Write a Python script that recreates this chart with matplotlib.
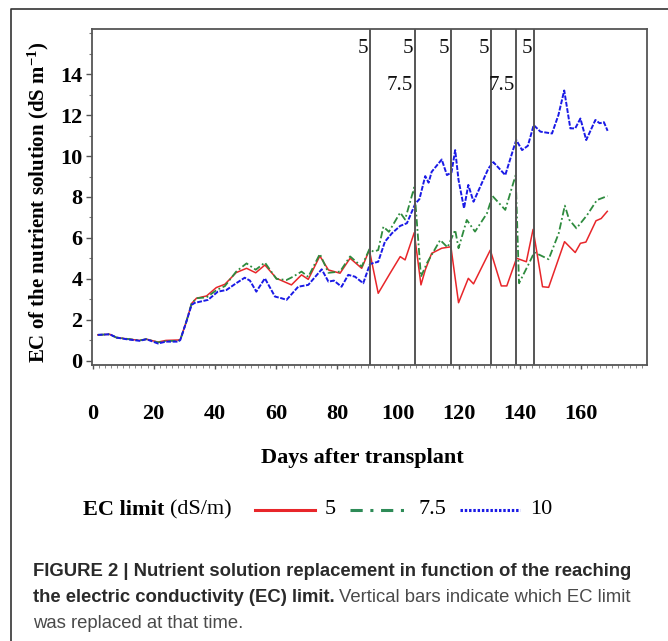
import matplotlib
matplotlib.use("Agg")
import matplotlib.pyplot as plt
from matplotlib.lines import Line2D
from matplotlib.ticker import MultipleLocator

plt.rcParams["mathtext.fontset"] = "custom"
plt.rcParams["mathtext.rm"] = "Liberation Serif:bold"
plt.rcParams["mathtext.bf"] = "Liberation Serif:bold"
plt.rcParams["mathtext.default"] = "rm"

# ---------------- data ----------------
days_red = [1.7, 5.6, 7.8, 11, 15.4, 17.6, 21.4, 24, 28, 28.7, 30.7, 32.4, 34, 37.3, 40.5, 43.3,
            47, 50.4, 53.4, 56.4, 60.2, 65.1, 68.4, 70.6, 74.4, 77.2, 81, 84.3, 88.1, 90.6,
            93.5, 97.4, 100.7, 102.3, 105.3, 107.5, 108.9, 111, 114.3, 117.3, 119.8, 123,
            124.7, 130.2, 133.8, 135.6, 138.8, 142, 144.2, 147.3, 149.3, 154.5, 158, 159.7,
            161.5, 164.8, 166.5, 168.5]
ec_red = [1.27, 1.30, 1.14, 1.08, 1.00, 1.06, 0.92, 1.00, 1.02, 1.04, 1.92, 2.80, 3.06, 3.17,
          3.58, 3.74, 4.31, 4.52, 4.30, 4.68, 4.03, 3.71, 4.20, 3.98, 5.12, 4.44, 4.28, 5.01,
          4.52, 5.41, 3.30, 4.28, 5.09, 4.93, 6.26, 3.71, 4.44, 5.25, 5.50, 5.57, 2.84, 4.03,
          3.76, 5.41, 3.66, 3.66, 5.01, 4.84, 6.42, 3.62, 3.59, 5.82, 5.29, 5.74, 5.80, 6.84,
          6.95, 7.30]

days_green = [1.7, 5.6, 7.8, 11, 15.4, 17.6, 21.4, 24, 28, 28.7, 30.7, 32.4, 34, 37.3, 40.5,
              43.3, 47, 50.4, 53.4, 56.4, 60.2, 63.5, 65.5, 68.4, 70.6, 74.4, 77.2, 81, 84.3,
              88.1, 90.6, 92, 93.5, 95.2, 97, 100.7, 102.3, 105.3, 107.5, 109.4, 113.8, 116.2,
              118.7, 119.8, 122.5, 125.2, 129.1, 130.9, 135.1, 138.5, 139.6, 143.0, 144.6,
              149.3, 152.6, 154.6, 156, 158.4, 161.9, 165.1, 168.6]
ec_green = [1.27, 1.30, 1.14, 1.08, 1.00, 1.06, 0.90, 0.97, 0.98, 1.02, 1.92, 2.80, 3.06, 3.10,
            3.45, 3.65, 4.36, 4.76, 4.45, 4.80, 4.00, 3.95, 4.10, 4.36, 4.10, 5.22, 4.30, 4.36,
            5.10, 4.60, 5.45, 5.33, 5.41, 6.55, 6.30, 7.24, 6.90, 8.47, 4.11, 4.76, 5.90, 5.54,
            6.39, 5.50, 6.88, 6.31, 7.20, 8.05, 7.37, 9.07, 3.79, 4.80, 5.30, 4.96, 6.23, 7.58,
            6.90, 6.47, 7.12, 7.85, 8.05]

days_blue = [1.7, 5.6, 7.8, 11, 15.4, 17.6, 21.4, 24, 28, 28.7, 30.7, 32.4, 33.4, 37.8, 41,
             43.8, 47, 49.8, 51.5, 53.6, 56.4, 59.7, 61.8, 63.5, 67.3, 70.6, 75, 77.2, 79,
             81.5, 83.7, 85.9, 88.6, 90.8, 93.5, 95.7, 98, 100.7, 102.9, 105.6, 107, 108.9,
             110, 111, 114.3, 116, 117.5, 118.7, 119.8, 121.6, 123, 124.7, 129.6, 131.2,
             135.1, 137.8, 138.7, 140.6, 142.5, 144.4, 146.6, 150.4, 152.5, 154.4, 156.4,
             158, 159.7, 161.6, 164.6, 166, 167.4, 168.6]
ec_blue = [1.27, 1.30, 1.14, 1.06, 0.98, 1.06, 0.85, 0.94, 0.94, 1.02, 1.92, 2.73, 2.83, 2.98,
           3.38, 3.46, 3.79, 4.06, 3.92, 3.38, 4.03, 3.14, 3.06, 2.98, 3.62, 3.71, 4.47, 3.87,
           3.92, 3.62, 4.20, 4.11, 3.79, 4.73, 4.84, 5.82, 6.23, 6.59, 6.72, 7.66, 7.90, 9.02,
           8.70, 9.23, 9.83, 9.07, 9.20, 10.29, 8.83, 7.45, 8.59, 7.77, 9.40, 9.70, 9.07,
           10.37, 10.78, 10.29, 10.50, 11.51, 11.19, 11.10, 12.00, 13.20, 11.35, 11.35, 11.83,
           10.78, 11.76, 11.60, 11.65, 11.23]

replacement_days = [90.8, 105.6, 117.4, 130.5, 138.7, 144.6]
replaced_5 = [True, True, True, True, False, True]
replaced_75 = [False, True, False, False, True, False]

x_ticks = [0, 20, 40, 60, 80, 100, 120, 140, 160]
y_ticks = [0, 2, 4, 6, 8, 10, 12, 14]

legend_labels = ["5", "7.5", "10"]

# ---------------- style ----------------
serif = ["Liberation Serif", "DejaVu Serif"]
sans = ["Liberation Sans", "DejaVu Sans"]
c_red = "#e8262a"
c_green = "#2e8b3e"
c_blue = "#1a1ae6"

fig = plt.figure(figsize=(6.68, 6.41), dpi=100)
W, H = 668.0, 641.0
ax = fig.add_axes([92 / W, 1 - 365 / H, (647 - 92) / W, (365 - 29) / H])

ax.plot(days_red, ec_red, color=c_red, lw=1.1, ls="-")
ax.plot(days_green, ec_green, color=c_green, lw=1.3, ls=(0, (4, 1.5, 1, 1.5)))
ax.plot(days_blue, ec_blue, color=c_blue, lw=1.4, ls=(0, (2.5, 0.8)))

for d, r5, r75 in zip(replacement_days, replaced_5, replaced_75):
    ax.axvline(d, color="#555555", lw=1.4, zorder=3)
    if r5:
        ax.text(d - 0.6, 15.25, "5", ha="right", va="center", fontsize=15,
                family=serif, color="#111111")
    if r75:
        ax.text(d - 0.6, 13.45, "7.5", ha="right", va="center", fontsize=15,
                family=serif, color="#111111")

ax.set_xlim(-0.2, 181.5)
ax.set_ylim(-0.2, 16.2)
ax.set_xticks(x_ticks)
ax.set_xticklabels([str(v) for v in x_ticks])
ax.set_yticks(y_ticks)
ax.set_yticklabels([str(v) for v in y_ticks])
ax.xaxis.set_minor_locator(MultipleLocator(2))
ax.yaxis.set_minor_locator(MultipleLocator(1))
ax.tick_params(axis="x", which="major", length=3, width=1, pad=25, color="#555555")
ax.tick_params(axis="x", which="minor", length=2, width=0.6, color="#777777")
ax.tick_params(axis="y", which="major", length=4, width=1, pad=3, color="#555555")
ax.tick_params(axis="y", which="minor", length=2.5, width=0.8, color="#777777")
for lab in ax.get_xticklabels() + ax.get_yticklabels():
    lab.set_family(serif)
    lab.set_fontweight("bold")
    lab.set_fontsize(16)
for s in ax.spines.values():
    s.set_color("#555555")
    s.set_linewidth(1.3)

ax.set_xlabel("Days after transplant", family=serif, fontweight="bold", fontsize=16)
ax.xaxis.set_label_coords(0.487, (365 - 458) / 336.0)
ax.xaxis.label.set_va("center")
ax.set_ylabel("EC of the nutrient solution (dS m$^{-1}$)", family=serif,
              fontweight="bold", fontsize=15)
ax.yaxis.set_label_coords((38 - 92) / 555.0, 0.485)
ax.yaxis.label.set_va("center")

# outer frame (left + top)
fig.add_artist(Line2D([11 / W, 11 / W, 1.0], [0.0, 1 - 9 / H, 1 - 9 / H],
                      transform=fig.transFigure, color="#333333", lw=1.2))

# legend (manual layout)
ly = 1 - 510 / H
fig.text(83 / W, ly, "EC limit", family=serif, fontweight="bold", fontsize=16,
         va="center", ha="left")
fig.text(170 / W, ly, "(dS/m)", family=serif, fontsize=16, va="center", ha="left")
leg_styles = [(c_red, "-", 255, 315, 325),
              ("#2e8b57", (0, (4, 2.5, 1, 2.5)), 350, 410, 418),
              (c_blue, (0, (0.8, 0.6)), 460, 520, 530)]
for (col, ls, x0, x1, xt), lab in zip(leg_styles, legend_labels):
    fig.add_artist(Line2D([x0 / W, x1 / W], [ly, ly], transform=fig.transFigure,
                          color=col, lw=2.2, ls=ls))
    fig.text(xt / W, ly, lab, family=serif, fontsize=16, va="center", ha="left")

# caption
fig.canvas.draw()
r = fig.canvas.get_renderer()
cap_x = 33 / W
cap_fs = 13.3
fig.text(cap_x, 1 - 572 / H, "FIGURE 2 | Nutrient solution replacement in function of the reaching",
         family=sans, fontweight="bold", fontsize=cap_fs, color="#2a2a2a", va="center")
t2 = fig.text(cap_x, 1 - 598 / H, "the electric conductivity (EC) limit.",
              family=sans, fontweight="bold", fontsize=cap_fs, color="#2a2a2a", va="center")
bb = t2.get_window_extent(renderer=r)
fig.text(bb.x1 / fig.bbox.width + 4 / W, 1 - 598 / H,
         "Vertical bars indicate which EC limit",
         family=sans, fontsize=cap_fs, color="#4a4a4a", va="center")
fig.text(cap_x, 1 - 623 / H, "was replaced at that time.",
         family=sans, fontsize=cap_fs, color="#4a4a4a", va="center")

fig.savefig("out.png", dpi=100, facecolor="white")
